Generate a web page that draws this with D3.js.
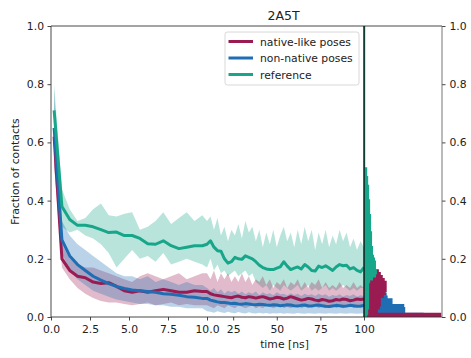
<!DOCTYPE html>
<html><head><meta charset="utf-8">
<script src="https://cdn.jsdelivr.net/npm/d3@7"></script>
<style>body{margin:0;background:#fff} svg{display:block} text{font-family:"DejaVu Sans",sans-serif;fill:#222}</style>
</head><body><svg id="c" width="471" height="358"></svg>
<script>
// ---------- data ----------
const title = "2A5T";
const seriesNames = ["native-like poses", "non-native poses", "reference"];
const xTicks = [0, 2.5, 5, 7.5, 10, 25, 50, 75, 100];
const yTicks = [0, 0.2, 0.4, 0.6, 0.8, 1.0];

// first segment (0-10 ns) and second segment (10-100 ns) sample times
const timeA = [0.2,0.7,1.2,1.7,2.2,2.7,3.2,3.7,4.2,4.7,5.2,5.7,6.2,6.7,7.2,7.7,8.2,8.7,9.2,9.7];
const timeB = [10,12,14,16,18,20,22,24,26,28,30,32,34,36,38,40,42,44,46,48,50,52,54,56,58,60,62,64,66,68,70,72,74,76,78,80,82,84,86,88,90,92,94,96,98,100];

// native-like poses
const nativeMeanA = [0.62,0.20,0.16,0.14,0.135,0.12,0.115,0.118,0.105,0.09,0.085,0.09,0.085,0.09,0.095,0.09,0.085,0.085,0.09,0.088];
const nativeHiA   = [0.72,0.25,0.20,0.18,0.17,0.17,0.16,0.15,0.14,0.13,0.12,0.14,0.15,0.14,0.13,0.14,0.15,0.13,0.14,0.15];
const nativeLoA   = [0.52,0.17,0.13,0.10,0.08,0.065,0.055,0.05,0.05,0.045,0.04,0.045,0.05,0.04,0.045,0.05,0.04,0.045,0.04,0.04];
const nativeMeanB = [0.088,0.08,0.076,0.074,0.072,0.07,0.068,0.066,0.07,0.072,0.068,0.066,0.07,0.068,0.065,0.068,0.07,0.066,0.062,0.064,0.068,0.066,0.062,0.065,0.07,0.066,0.062,0.058,0.06,0.064,0.062,0.058,0.056,0.06,0.058,0.054,0.056,0.06,0.058,0.062,0.06,0.056,0.058,0.062,0.06,0.062];
const nativeHiB   = [0.15,0.13,0.16,0.12,0.15,0.13,0.15,0.12,0.14,0.12,0.15,0.12,0.14,0.11,0.13,0.12,0.14,0.11,0.13,0.10,0.12,0.11,0.13,0.10,0.12,0.11,0.13,0.10,0.12,0.10,0.12,0.11,0.13,0.10,0.12,0.10,0.11,0.10,0.12,0.10,0.11,0.10,0.12,0.10,0.11,0.10];
const nativeLoB   = [0.04,0.035,0.03,0.04,0.035,0.03,0.04,0.035,0.03,0.04,0.035,0.03,0.035,0.04,0.03,0.035,0.03,0.04,0.035,0.03,0.035,0.04,0.03,0.035,0.03,0.035,0.04,0.03,0.035,0.03,0.035,0.04,0.03,0.035,0.03,0.035,0.04,0.03,0.035,0.03,0.035,0.04,0.03,0.035,0.03,0.035];

// non-native poses
const nonMeanA = [0.65,0.265,0.21,0.18,0.16,0.14,0.127,0.115,0.105,0.098,0.093,0.09,0.088,0.085,0.08,0.078,0.075,0.07,0.068,0.064];
const nonHiA   = [0.78,0.33,0.28,0.25,0.23,0.21,0.19,0.17,0.15,0.14,0.14,0.13,0.14,0.12,0.13,0.12,0.11,0.12,0.11,0.11];
const nonLoA   = [0.52,0.22,0.16,0.13,0.11,0.09,0.08,0.07,0.06,0.055,0.05,0.045,0.045,0.04,0.04,0.035,0.035,0.03,0.03,0.03];
const nonMeanB = [0.064,0.058,0.055,0.052,0.05,0.05,0.048,0.046,0.047,0.045,0.044,0.046,0.045,0.043,0.042,0.044,0.043,0.041,0.04,0.042,0.041,0.039,0.04,0.042,0.041,0.039,0.038,0.04,0.041,0.039,0.038,0.04,0.041,0.039,0.037,0.036,0.038,0.04,0.039,0.037,0.038,0.04,0.039,0.037,0.038,0.04];
const nonHiB   = [0.10,0.09,0.10,0.085,0.095,0.08,0.09,0.085,0.09,0.08,0.088,0.078,0.085,0.08,0.088,0.075,0.085,0.078,0.082,0.075,0.085,0.078,0.08,0.074,0.082,0.076,0.08,0.072,0.08,0.075,0.078,0.072,0.08,0.074,0.078,0.07,0.076,0.072,0.078,0.07,0.076,0.072,0.078,0.07,0.075,0.072];
const nonLoB   = [0.02,0.018,0.015,0.02,0.016,0.014,0.018,0.015,0.013,0.017,0.014,0.012,0.016,0.013,0.012,0.015,0.012,0.014,0.011,0.013,0.012,0.014,0.011,0.013,0.012,0.011,0.014,0.012,0.011,0.013,0.012,0.011,0.013,0.012,0.011,0.013,0.012,0.011,0.013,0.012,0.011,0.013,0.012,0.011,0.012,0.012];

// reference
const refMeanA = [0.71,0.38,0.335,0.315,0.315,0.31,0.30,0.29,0.292,0.28,0.28,0.27,0.252,0.25,0.262,0.245,0.235,0.24,0.245,0.245];
const refHiA   = [0.80,0.44,0.37,0.33,0.34,0.37,0.39,0.35,0.345,0.355,0.36,0.30,0.31,0.33,0.36,0.32,0.34,0.36,0.33,0.35];
const refLoA   = [0.62,0.31,0.29,0.30,0.28,0.27,0.25,0.22,0.17,0.20,0.23,0.20,0.21,0.19,0.22,0.18,0.19,0.20,0.19,0.18];
const refMeanB = [0.25,0.262,0.24,0.228,0.226,0.20,0.185,0.19,0.205,0.20,0.198,0.21,0.205,0.20,0.19,0.178,0.17,0.165,0.163,0.163,0.168,0.172,0.19,0.175,0.163,0.168,0.172,0.165,0.18,0.172,0.16,0.158,0.175,0.17,0.176,0.168,0.16,0.172,0.18,0.176,0.178,0.165,0.17,0.16,0.155,0.17];
const refHiB   = [0.33,0.345,0.30,0.34,0.28,0.31,0.26,0.30,0.28,0.32,0.27,0.33,0.29,0.31,0.26,0.30,0.24,0.29,0.25,0.30,0.24,0.28,0.31,0.26,0.29,0.24,0.30,0.25,0.31,0.26,0.30,0.23,0.29,0.25,0.30,0.24,0.28,0.25,0.30,0.26,0.29,0.24,0.27,0.23,0.26,0.24];
const refLoB   = [0.17,0.20,0.16,0.18,0.15,0.16,0.14,0.15,0.16,0.14,0.15,0.16,0.14,0.15,0.12,0.11,0.10,0.11,0.09,0.11,0.10,0.09,0.11,0.10,0.09,0.10,0.11,0.09,0.10,0.11,0.09,0.10,0.09,0.10,0.11,0.09,0.10,0.09,0.10,0.11,0.10,0.09,0.10,0.09,0.10,0.10];

// histograms of fraction of contacts (bin width 0.01, starting at 0)
const histBin = 0.01;
const nativeHist = [78,13,13,15,16,16,16,19,21,22,22,22,20,18,16,14];
const nonHist    = [60,41,41,40,28,28,23,22,20,18,16,12,8,5,3];
const refHist    = [2,3,3,4,4,4,4,4,4,4,4,4,5,8,11,12,11,11,11,10,9,8,8,8,7,7,7,7,7,6,6,6,6,6,6,5,5,5,5,5,4,4,4,4,4,3,3,3,2,2,2];
const refHistTop = 1.0;

// ---------- drawing ----------
const colors = ["#9a1b52", "#1f6eb4", "#17a68a"];
const svg = d3.select("#c");
const x = d3.scaleLinear().domain([0, 10, 100]).range([51, 207, 364]);
const y = d3.scaleLinear().domain([0, 1]).range([317, 26]);
const hx = d3.scaleLinear().domain([0, 80]).range([364, 442]);

const times = timeA.concat(timeB);
const series = [
  {mean: nativeMeanA.concat(nativeMeanB), hi: nativeHiA.concat(nativeHiB), lo: nativeLoA.concat(nativeLoB), hist: nativeHist, top: null},
  {mean: nonMeanA.concat(nonMeanB), hi: nonHiA.concat(nonHiB), lo: nonLoA.concat(nonLoB), hist: nonHist, top: null},
  {mean: refMeanA.concat(refMeanB), hi: refHiA.concat(refHiB), lo: refLoA.concat(refLoB), hist: refHist, top: refHistTop}
];
series.forEach((s, i) => { s.color = colors[i]; s.name = seriesNames[i]; });

const defs = svg.append("defs");
defs.append("clipPath").attr("id", "mainclip").append("rect")
  .attr("x", x(0)).attr("y", y(1)).attr("width", x(100) - x(0)).attr("height", y(0) - y(1));
defs.append("clipPath").attr("id", "histclip").append("rect")
  .attr("x", hx(0)).attr("y", y(1)).attr("width", hx(80) - hx(0)).attr("height", y(0) - y(1));

const main = svg.append("g").attr("clip-path", "url(#mainclip)");
const area = d3.area().x((d, i) => x(times[i])).y0(d => y(d[0])).y1(d => y(d[1]));
// bands: reference first, then native, then non-native
[2, 0, 1].forEach(k => {
  const s = series[k];
  main.append("path").datum(s.lo.map((v, i) => [v, s.hi[i]]))
    .attr("d", area).attr("fill", s.color).attr("fill-opacity", 0.3).attr("stroke", "none");
});
const line = d3.line().x((d, i) => x(times[i])).y(d => y(d));
[0, 1, 2].forEach(k => {
  const s = series[k];
  main.append("path").datum(s.mean).attr("d", line)
    .attr("fill", "none").attr("stroke", s.color).attr("stroke-width", 3).attr("stroke-linejoin", "round");
});

// histograms (non-native, native, reference on top)
const hg = svg.append("g").attr("clip-path", "url(#histclip)");
[1, 0, 2].forEach(k => {
  const s = series[k];
  const p = d3.path();
  p.moveTo(hx(0), y(0));
  s.hist.forEach((c, i) => {
    p.lineTo(hx(c), y(i * histBin));
    p.lineTo(hx(c), y((i + 1) * histBin));
  });
  p.lineTo(hx(0), y(s.hist.length * histBin));
  if (s.top !== null) p.lineTo(hx(0), y(s.top));
  p.closePath();
  hg.append("path").attr("d", p.toString()).attr("fill", s.color)
    .attr("stroke", s.color).attr("stroke-width", 2.5).attr("stroke-linejoin", "miter");
});

// axes
const fs = "10.8px";
const xAxis = d3.axisBottom(x).tickValues(xTicks)
  .tickFormat(d => d <= 10 ? d3.format(".1f")(d) : d3.format("d")(d))
  .tickSize(3.5).tickPadding(5).tickSizeOuter(0);
const gx = svg.append("g").attr("transform", `translate(0,${y(0)})`).call(xAxis);
const yAxis = d3.axisLeft(y).tickValues(yTicks).tickFormat(d3.format(".1f")).tickSize(3.5).tickPadding(3.5).tickSizeOuter(0);
const gy = svg.append("g").attr("transform", `translate(${x(0)},0)`).call(yAxis);
const yAxisR = d3.axisRight(y).tickValues(yTicks).tickFormat(d3.format(".1f")).tickSize(3.5).tickPadding(4).tickSizeOuter(0);
const gr = svg.append("g").attr("transform", `translate(${hx(80)},0)`).call(yAxisR);
[gx, gy, gr].forEach(g => {
  g.select(".domain").remove();
  g.selectAll("text").style("font-size", fs).style("font-family", '"DejaVu Sans",sans-serif').attr("fill", "#222");
  g.selectAll("line").attr("stroke", "#333").attr("stroke-width", 0.9);
});

// spines
const sp = svg.append("g").attr("stroke", "#333").attr("stroke-width", 0.9).attr("fill", "none");
sp.append("line").attr("x1", x(0)).attr("x2", hx(80)).attr("y1", y(0)).attr("y2", y(0));
sp.append("line").attr("x1", x(0)).attr("x2", hx(80)).attr("y1", y(1)).attr("y2", y(1));
sp.append("line").attr("x1", x(0)).attr("x2", x(0)).attr("y1", y(0)).attr("y2", y(1));
sp.append("line").attr("x1", hx(80)).attr("x2", hx(80)).attr("y1", y(0)).attr("y2", y(1)).attr("stroke", "#666");
svg.append("line").attr("x1", x(100)).attr("x2", x(100)).attr("y1", y(0)).attr("y2", y(1))
  .attr("stroke", "#111").attr("stroke-width", 1.4);

// labels
svg.append("text").attr("x", (x(10) + x(100)) / 2 - 2).attr("y", 20).attr("text-anchor", "middle")
  .style("font-size", "12.5px").text(title);
svg.append("text").attr("x", (x(10) + x(100)) / 2 - 1).attr("y", 348).attr("text-anchor", "middle")
  .style("font-size", fs).text("time [ns]");
svg.append("text").attr("transform", `translate(18.5,${(y(0) + y(1)) / 2}) rotate(-90)`).attr("text-anchor", "middle")
  .style("font-size", fs).text("Fraction of contacts");

// legend
const lg = svg.append("g").attr("transform", "translate(225,32)");
lg.append("rect").attr("width", 134).attr("height", 53).attr("rx", 2.5)
  .attr("fill", "#fff").attr("fill-opacity", 0.85).attr("stroke", "#d4d4d4").attr("stroke-width", 0.9);
series.forEach((s, i) => {
  const yy = 9.5 + i * 16.5;
  lg.append("line").attr("x1", 3.5).attr("x2", 28).attr("y1", yy).attr("y2", yy)
    .attr("stroke", s.color).attr("stroke-width", 3);
  lg.append("text").attr("x", 35).attr("y", yy + 4).style("font-size", fs).text(s.name);
});
</script></body></html>
